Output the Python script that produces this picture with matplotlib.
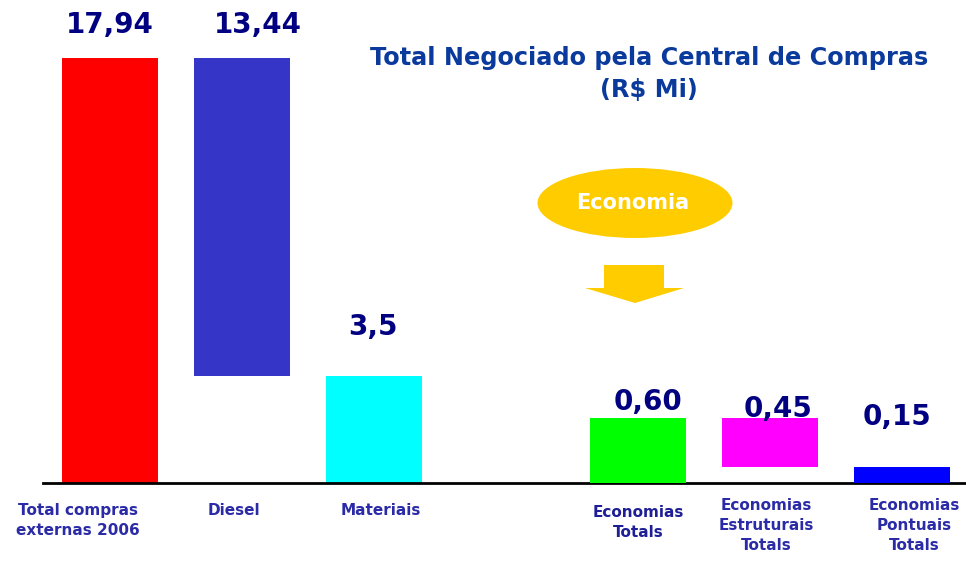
import matplotlib.pyplot as plt
from matplotlib.patches import Ellipse, Polygon

# Data (R$ Mi)
categories = ['Total compras\nexternas 2006', 'Diesel', 'Materiais',
              'Economias\nTotals', 'Economias\nEstruturais\nTotals',
              'Economias\nPontuais\nTotals']
total_compras = 17.94
diesel = 13.44
materiais = 3.5
economia_total = 0.60
economia_estrutural = 0.45
economia_pontual = 0.15

value_labels = ['17,94', '13,44', '3,5', '0,60', '0,45', '0,15']
positions = [0, 1, 2, 4, 5, 6]

W, H = 966, 561


def fx(x):
    return x / W


def fy(y):
    return 1 - y / H


def main():
    fig = plt.figure(figsize=(W / 100, H / 100), dpi=100)
    ax = fig.add_axes([fx(43), fy(483), fx(966 - 43), 483 / H])
    ax2 = ax.twinx()

    ax.set_xlim(-0.508, 6.485)
    ax.set_ylim(0, 20.39)
    ax2.set_ylim(0, 4.46)

    width = 0.727

    # waterfall: total compras -> diesel -> materiais (left scale)
    left_bottoms = [0, total_compras - diesel, 0]
    left_heights = [total_compras, diesel, total_compras - diesel]
    left_colors = ['#FF0000', '#3535C8', '#00FFFF']
    ax.bar(positions[:3], left_heights, width=width, bottom=left_bottoms,
           color=left_colors, edgecolor='none')

    # waterfall of savings (right scale)
    right_bottoms = [0, economia_total - economia_estrutural, 0]
    right_heights = [economia_total, economia_estrutural, economia_pontual]
    right_colors = ['#00FF00', '#FF00FF', '#0000FF']
    ax2.bar(positions[3:], right_heights, width=width, bottom=right_bottoms,
            color=right_colors, edgecolor='none')

    # value labels (offsets in pixels)
    tops = [b + h for b, h in zip(left_bottoms + right_bottoms, left_heights + right_heights)]
    offsets = [(0, 25), (16, 25), (-1, 41), (10, 8), (8, 1), (-5, 42)]
    for i, (pos, top, lab) in enumerate(zip(positions, tops, value_labels)):
        a = ax if i < 3 else ax2
        a.annotate(lab, (pos, top), xytext=offsets[i], textcoords='offset pixels',
                   ha='center', va='baseline', fontsize=20, fontweight='bold',
                   color='#000080')

    # category labels
    label_dx = [-32, -8, 7, 0, -4, 12]
    label_dy = [-20, -20, -20, -22, -15, -15]
    label_color = ['#2B2BA8', '#2B2BA8', '#2B2BA8', '#1E1E96', '#2B2BA8', '#2B2BA8']
    for pos, lab, dx, dy, c in zip(positions, categories, label_dx, label_dy, label_color):
        ax.annotate(lab, (pos, 0), xytext=(dx, dy), textcoords='offset pixels',
                    ha='center', va='top', fontsize=11, fontweight='bold',
                    color=c, linespacing=1.4)

    for a in (ax, ax2):
        for s in ['top', 'right', 'left']:
            a.spines[s].set_visible(False)
        a.set_yticks([])
        a.set_xticks([])
    ax2.spines['bottom'].set_visible(False)
    ax.spines['bottom'].set_linewidth(2)
    ax.spines['bottom'].set_color('black')

    # title
    fig.text(fx(649), fy(58), 'Total Negociado pela Central de Compras',
             ha='center', va='center', fontsize=17.3, fontweight='bold', color='#0A3A9C')
    fig.text(fx(649), fy(90), '(R$ Mi)',
             ha='center', va='center', fontsize=17.3, fontweight='bold', color='#0A3A9C')

    # "Economia" bubble and arrow
    ell = Ellipse((fx(635), fy(203)), fx(195), 70 / H, transform=fig.transFigure,
                  facecolor='#FFCC00', edgecolor='none')
    fig.patches.append(ell)
    fig.text(fx(633), fy(203), 'Economia', ha='center', va='center',
             fontsize=15, fontweight='bold', color='white')

    arrow_px = [(604, 265), (664, 265), (664, 288), (684, 288), (635, 303),
                (585, 288), (604, 288)]
    arrow = Polygon([(fx(x), fy(y)) for x, y in arrow_px], closed=True,
                    transform=fig.transFigure, facecolor='#FFCC00', edgecolor='none')
    fig.patches.append(arrow)

    plt.savefig('out.png', dpi=100)


if __name__ == '__main__':
    main()
